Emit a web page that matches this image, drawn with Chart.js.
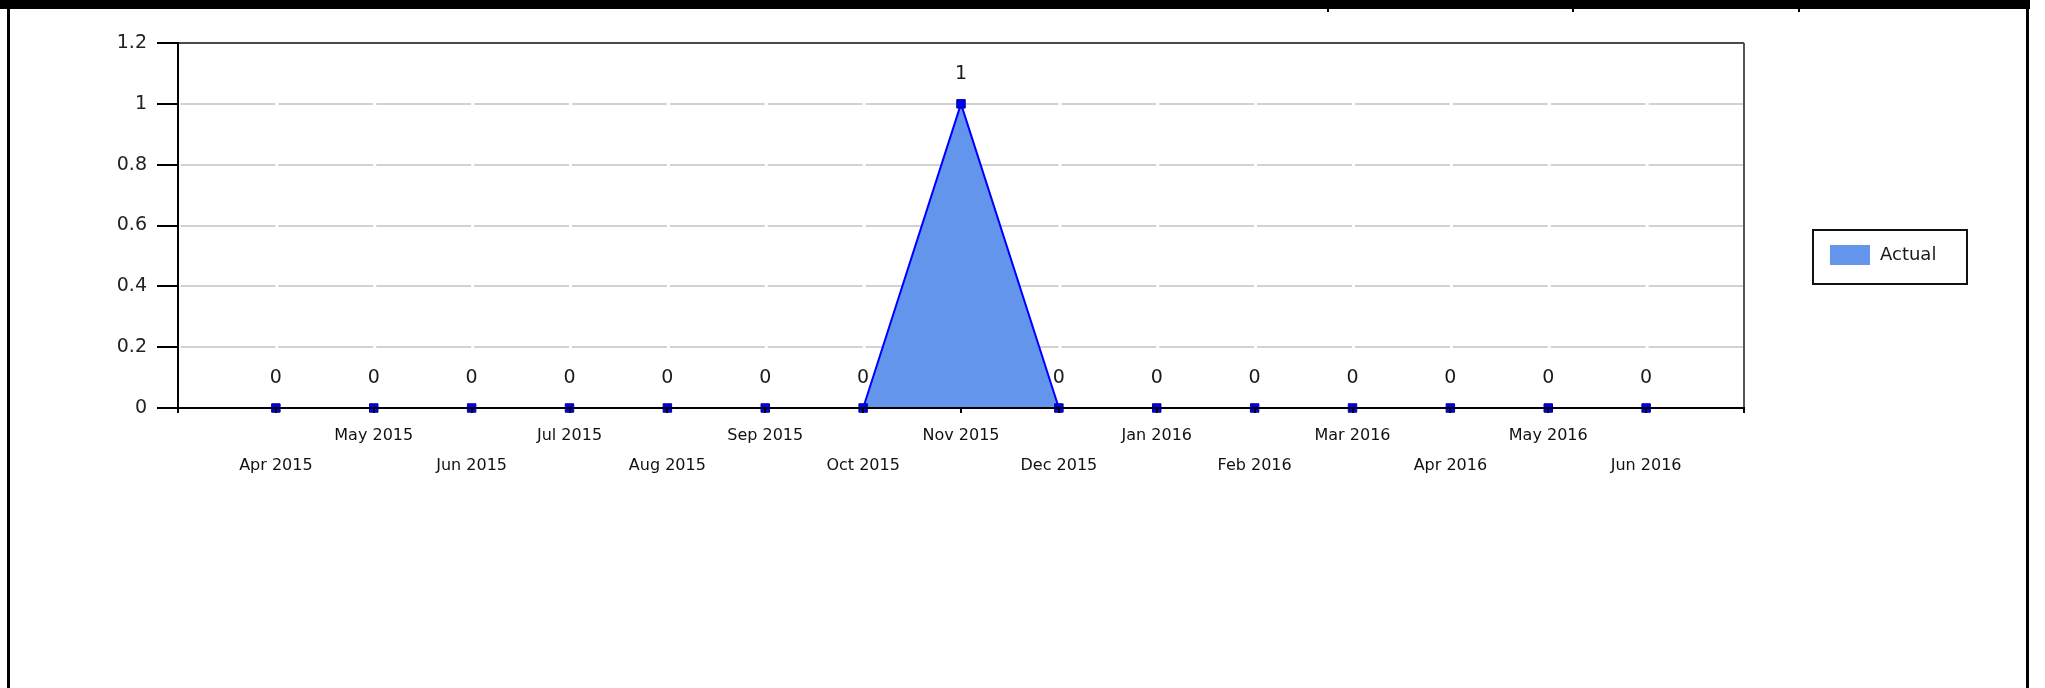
<!DOCTYPE html>
<html>
<head>
<meta charset="utf-8">
<title>Actual</title>
<script src="https://cdn.jsdelivr.net/npm/chart.js@4.4.1/dist/chart.umd.min.js"></script>
<style>
  html, body { margin: 0; padding: 0; background: #fff; }
  #wrap { position: relative; width: 2045px; height: 688px; overflow: hidden; }
  #wrap canvas { position: absolute; left: 0; top: 0; }
  .rule { position: absolute; background: #000; }
</style>
</head>
<body>
<div id="wrap">
  <canvas id="chart" width="2045" height="688"></canvas>
  <!-- surrounding table frame -->
  <div class="rule" style="left:0;top:0;width:2030px;height:9px"></div>
  <div class="rule" style="left:7px;top:0;width:3px;height:688px"></div>
  <div class="rule" style="left:2026px;top:0;width:3px;height:688px"></div>
  <div class="rule" style="left:1327px;top:0;width:2px;height:12px"></div>
  <div class="rule" style="left:1572px;top:0;width:2px;height:12px"></div>
  <div class="rule" style="left:1798px;top:0;width:2px;height:12px"></div>
</div>
<script>
// Monthly categories and the "Actual" series
const months = ['Apr 2015', 'May 2015', 'Jun 2015', 'Jul 2015', 'Aug 2015', 'Sep 2015', 'Oct 2015',
                'Nov 2015', 'Dec 2015', 'Jan 2016', 'Feb 2016', 'Mar 2016', 'Apr 2016', 'May 2016', 'Jun 2016'];
const actual = [0, 0, 0, 0, 0, 0, 0, 1, 0, 0, 0, 0, 0, 0, 0];
const seriesName = 'Actual';
const yTicks = [0, 0.2, 0.4, 0.6, 0.8, 1, 1.2];

// one empty slot at each end so the first and last months sit a full step in from the frame
const labels = ['', ...months, ''];
const values = [null, ...actual, null];

const FONT = "'DejaVu Sans', sans-serif";

// value labels above each point
const valueLabels = {
  id: 'valueLabels',
  afterDatasetsDraw(chart) {
    const ctx = chart.ctx;
    ctx.save();
    ctx.font = '19px ' + FONT;
    ctx.fillStyle = '#1a1a1a';
    ctx.textAlign = 'center';
    ctx.textBaseline = 'alphabetic';
    chart.data.datasets.forEach((ds, di) => {
      const meta = chart.getDatasetMeta(di);
      meta.data.forEach((pt, i) => {
        const v = ds.data[i];
        if (v === null || v === undefined) return;
        ctx.fillText(String(v), pt.x, pt.y - 25);
      });
    });
    ctx.restore();
  }
};

// boxed legend to the right of the plot
const boxedLegend = {
  id: 'boxedLegend',
  afterDraw(chart) {
    const ctx = chart.ctx;
    const a = chart.chartArea;
    const x = a.right + 69, y = a.top + 187, w = 154, h = 54;
    ctx.save();
    ctx.fillStyle = '#fff';
    ctx.fillRect(x, y, w, h);
    ctx.lineWidth = 2;
    ctx.strokeStyle = '#111';
    ctx.strokeRect(x, y, w, h);
    chart.data.datasets.forEach((ds, i) => {
      const rowY = y + 25 + i * 30;
      ctx.fillStyle = ds.backgroundColor;
      ctx.fillRect(x + 17, rowY - 10, 40, 20);
      ctx.fillStyle = '#1a1a1a';
      ctx.font = '18px ' + FONT;
      ctx.textAlign = 'left';
      ctx.textBaseline = 'middle';
      ctx.fillText(ds.label, x + 67, rowY);
    });
    ctx.restore();
  }
};

new Chart(document.getElementById('chart'), {
  type: 'line',
  data: {
    labels: labels,
    datasets: [{
      label: seriesName,
      data: values,
      fill: 'origin',
      backgroundColor: '#6495ED',
      borderColor: '#0000ff',
      borderWidth: 2,
      tension: 0,
      pointStyle: 'rect',
      pointRadius: 6,
      pointHoverRadius: 6,
      pointBackgroundColor: '#0000ee',
      pointBorderColor: '#0000aa',
      pointBorderWidth: 1,
      clip: false
    }]
  },
  options: {
    responsive: false,
    animation: false,
    devicePixelRatio: 1,
    layout: { padding: { left: 100, right: 301, top: 43, bottom: 180 } },
    plugins: {
      legend: { display: false },
      tooltip: { enabled: false }
    },
    scales: {
      x: {
        type: 'category',
        offset: false,
        afterFit(scale) { scale.height = 100; },
        grid: {
          display: true,
          drawOnChartArea: true,
          z: 1,
          color: (c) => (c.index === labels.length - 1 ? '#555' : 'rgba(0,0,0,0)'),
          lineWidth: 2,
          tickLength: 5,
          tickColor: '#000',
          tickWidth: 2
        },
        // the zero line sits above the filled area
        border: { display: true, color: '#000', width: 2, z: 1 },
        ticks: {
          autoSkip: false,
          maxRotation: 0,
          minRotation: 0,
          padding: 8,
          color: '#111',
          font: { family: FONT, size: 16, lineHeight: 1.875 },
          callback(value, index) {
            const name = labels[index];
            if (!name) return '';
            // alternate months drop to a second row
            return index % 2 === 1 ? ['', name] : [name];
          }
        }
      },
      y: {
        min: 0,
        max: 1.2,
        afterFit(scale) { scale.width = 78; },
        afterBuildTicks(scale) { scale.ticks = yTicks.map(v => ({ value: v })); },
        grid: {
          color: (c) => (c.tick && c.tick.value === 1.2 ? '#4a4a4a' : '#d2d2d2'),
          lineWidth: 2,
          tickLength: 21,
          tickColor: '#000',
          tickWidth: 2
        },
        border: {
          display: true,
          color: '#000',
          width: 2,
          dash: (c) => {
            if (c.tick && c.tick.value === 1.2) return [];
            const step = c.chart.chartArea ? c.chart.chartArea.width / (labels.length - 1) : 98;
            return [step - 3, 3];
          },
          dashOffset: -1.5
        },
        ticks: {
          padding: 10,
          color: '#222',
          font: { family: FONT, size: 19 },
          callback(value) { return String(Number(value.toFixed(1))); }
        }
      }
    }
  },
  plugins: [valueLabels, boxedLegend]
});
</script>
</body>
</html>
